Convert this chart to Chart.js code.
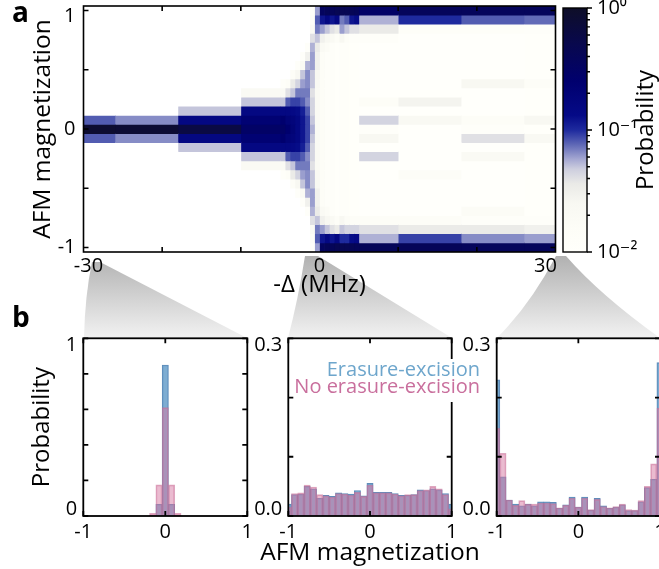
<!DOCTYPE html>
<html lang="en">
<head>
<meta charset="UTF-8">
<title>AFM magnetization vs detuning</title>
<style>
  body { margin: 0; padding: 0; width: 659px; height: 569px; overflow: hidden; background: #fff;
         position: relative; font-family: 'Open Sans', 'DejaVu Sans', sans-serif; }
  canvas, svg, .lbl { position: absolute; }
  .panel { font-weight: bold; font-size: 28px; line-height: 28px; color: #000; }
  .legend { font-size: 20px; line-height: 20px; right: 179px; background: #fff; white-space: nowrap; }
</style>
</head>
<body>
<svg width="659" height="569" style="left:0;top:0">
  <defs>
    <linearGradient id="wedgeFill" x1="0" y1="255" x2="0" y2="338" gradientUnits="userSpaceOnUse">
      <stop offset="0" stop-color="#b0b0b0"/>
      <stop offset="1" stop-color="#f2f2f2"/>
    </linearGradient>
  </defs>
  <path d="M92 262 L100 262 L247 338 L84 338 Q85 295 92 262 Z" fill="url(#wedgeFill)"/>
  <path d="M305 256 L318 256 L452 338 L288 338 Q298 300 305 256 Z" fill="url(#wedgeFill)"/>
  <path d="M556 256 L566 256 Q600 295 660 338 L497 338 Q530 305 556 256 Z" fill="url(#wedgeFill)"/>
</svg>

<canvas id="heat" width="600" height="300" style="left:0;top:0"></canvas>
<canvas id="cbar" width="119" height="300" style="left:540px;top:0"></canvas>
<canvas id="h1" width="262" height="269" style="left:0;top:300px"></canvas>
<canvas id="h2" width="280" height="269" style="left:220px;top:300px"></canvas>
<canvas id="h3" width="240" height="269" style="left:430px;top:300px"></canvas>

<div class="lbl panel" style="left:12px;top:-3px">a</div>
<div class="lbl panel" style="left:12px;top:302px">b</div>
<div class="lbl legend" style="top:359px;color:#6ea6cc">Erasure-excision</div>
<div class="lbl legend" style="top:376px;height:26px;color:#c96f9d">No erasure-excision</div>

<script src="https://cdn.jsdelivr.net/npm/chart.js"></script>
<script>
// AFM magnetization bins (rows of the map, bins of the histograms)
const magnetization = [-1, -0.9231, -0.8462, -0.7692, -0.6923, -0.6154, -0.5385, -0.4615, -0.3846, -0.3077,
  -0.2308, -0.1538, -0.0769, 0, 0.0769, 0.1538, 0.2308, 0.3077, 0.3846, 0.4615, 0.5385, 0.6154, 0.6923,
  0.7692, 0.8462, 0.9231, 1];

// -Delta (MHz) column edges of the map
const detuningEdges = [-30, -26, -18, -10, -5, -4.375, -3.75, -3.125, -2.5, -1.875, -1.25, -0.625, 0,
  0.625, 1.25, 1.875, 2.5, 3.125, 3.75, 4.375, 5, 10, 18, 26, 30];

// probability per column, from m = -1 (first) to m = +1 (last)
const colM30 = [.008,.008,.008,.008,.008,.008,.008,.008,.008,.008,.008,.008,.08,.85,.08,.008,.008,.008,.008,.008,.008,.008,.008,.008,.008,.008,.008];
const colM22 = [.008,.008,.008,.008,.008,.008,.008,.008,.008,.008,.008,.008,.065,.8,.065,.008,.008,.008,.008,.008,.008,.008,.008,.008,.008,.008,.008];
const colM14 = [.008,.008,.008,.008,.008,.008,.008,.008,.008,.008,.008,.05,.15,.6,.15,.05,.008,.008,.008,.008,.008,.008,.008,.008,.008,.008,.008];
const colM6  = [.008,.008,.008,.008,.008,.008,.008,.008,.008,.02,.05,.15,.22,.3,.22,.15,.05,.02,.008,.008,.008,.008,.008,.008,.008,.008,.008];
const colM4_7 = [.008,.008,.008,.008,.008,.008,.008,.008,.012,.02,.05,.15,.25,.3,.25,.15,.05,.02,.012,.008,.008,.008,.008,.008,.008,.008,.008];
const colM4_1 = [.008,.008,.008,.008,.008,.008,.008,.008,.015,.04,.08,.15,.2,.25,.2,.15,.08,.04,.015,.008,.008,.008,.008,.008,.008,.008,.008];
const colM3_4 = [.008,.008,.008,.008,.008,.008,.008,.015,.035,.05,.09,.14,.18,.2,.18,.14,.09,.05,.035,.015,.008,.008,.008,.008,.008,.008,.008];
const colM2_8 = [.008,.008,.008,.008,.008,.008,.012,.025,.045,.07,.09,.13,.15,.15,.15,.13,.09,.07,.045,.025,.012,.008,.008,.008,.008,.008,.008];
const colM2_2 = [.008,.008,.008,.008,.008,.012,.02,.05,.06,.07,.08,.11,.12,.12,.12,.11,.08,.07,.06,.05,.02,.012,.008,.008,.008,.008,.008];
const colM1_6 = [.009,.009,.009,.009,.012,.03,.055,.065,.065,.07,.065,.08,.09,.09,.09,.08,.065,.07,.065,.065,.055,.03,.012,.009,.009,.009,.009];
const colM0_9 = [.012,.015,.02,.04,.055,.06,.06,.05,.05,.04,.045,.045,.05,.055,.05,.045,.045,.04,.05,.05,.06,.06,.055,.04,.02,.015,.012];
const colM0_3 = [.06,.08,.07,.05,.035,.03,.03,.025,.022,.02,.02,.02,.02,.02,.02,.02,.02,.02,.022,.025,.03,.03,.035,.05,.07,.08,.06];
const colP0_3 = [.35,.12,.06,.03,.02,.015,.015,.015,.015,.015,.015,.015,.015,.015,.015,.015,.015,.015,.015,.015,.015,.015,.02,.03,.06,.12,.35];
const colP0_9 = [.4,.15,.05,.025,.018,.013,.013,.013,.013,.013,.013,.013,.013,.013,.013,.013,.013,.013,.013,.013,.013,.013,.018,.025,.05,.15,.4];
const colP1_6 = [.4,.12,.04,.02,.012,.012,.012,.012,.012,.012,.012,.012,.012,.012,.012,.012,.012,.012,.012,.012,.012,.012,.012,.02,.04,.12,.4];
const colP2_2 = [.45,.15,.035,.015,.011,.011,.011,.011,.011,.011,.011,.011,.011,.011,.011,.011,.011,.011,.011,.011,.011,.011,.011,.015,.035,.15,.45];
const colP2_8 = [.45,.1,.05,.025,.012,.012,.012,.012,.012,.012,.012,.012,.012,.012,.012,.012,.012,.012,.012,.012,.012,.012,.012,.025,.06,.07,.45];
const colP3_4 = [.45,.1,.045,.018,.012,.012,.012,.012,.012,.012,.012,.012,.012,.012,.012,.012,.012,.012,.012,.012,.012,.012,.012,.015,.05,.08,.45];
const colP4_1 = [.42,.13,.045,.015,.011,.011,.011,.011,.011,.011,.011,.011,.011,.011,.011,.011,.011,.011,.011,.011,.011,.011,.011,.012,.04,.12,.42];
const colP4_7 = [.4,.14,.045,.015,.011,.011,.011,.011,.011,.011,.011,.011,.011,.011,.011,.011,.011,.011,.011,.011,.011,.011,.011,.012,.04,.13,.4];
const colP6  = [.4,.055,.04,.015,.01,.01,.01,.01,.01,.01,.045,.01,.025,.012,.045,.01,.015,.01,.01,.01,.01,.01,.01,.012,.035,.055,.3];
const colP14 = [.4,.09,.035,.015,.01,.01,.01,.01,.015,.01,.01,.01,.01,.01,.022,.01,.028,.01,.01,.01,.01,.01,.01,.01,.014,.1,.38];
const colP22 = [.38,.065,.035,.012,.018,.01,.01,.01,.01,.01,.02,.01,.04,.012,.015,.01,.01,.01,.025,.01,.01,.01,.01,.01,.014,.08,.38];
const colP30 = [.38,.06,.03,.012,.011,.011,.011,.011,.011,.011,.011,.011,.022,.011,.025,.011,.011,.011,.015,.011,.011,.011,.011,.011,.012,.075,.38];

const heatColumns = [colM30, colM22, colM14, colM6, colM4_7, colM4_1, colM3_4, colM2_8, colM2_2, colM1_6,
  colM0_9, colM0_3, colP0_3, colP0_9, colP1_6, colP2_2, colP2_8, colP3_4, colP4_1, colP4_7,
  colP6, colP14, colP22, colP30];

// histograms (b): -Delta = -30, 0, 30 MHz
const histM30Erasure   = [0,0,0,0,0,0,0,0,0,0,0,.003,.066,.85,.066,.003,0,0,0,0,0,0,0,0,0,0,0];
const histM30NoErasure = [0,0,0,0,0,0,0,0,0,0,0,.015,.175,.61,.175,.015,0,0,0,0,0,0,0,0,0,0,0];
const hist0Erasure   = [.02,.036,.037,.05,.046,.03,.035,.033,.039,.038,.037,.043,.034,.055,.04,.04,.04,.038,.035,.035,.036,.044,.043,.046,.044,.038,.02];
const hist0NoErasure = [.015,.038,.039,.052,.049,.036,.034,.032,.038,.037,.035,.04,.033,.052,.039,.039,.039,.037,.034,.036,.036,.043,.044,.05,.046,.036,.012];
const hist30Erasure   = [.23,.066,.027,.02,.017,.02,.017,.024,.024,.023,.013,.019,.032,.015,.032,.01,.03,.017,.013,.015,.019,.009,.009,.024,.048,.062,.259];
const hist30NoErasure = [.148,.106,.027,.018,.026,.02,.02,.022,.022,.021,.014,.018,.03,.015,.03,.011,.028,.016,.014,.016,.02,.011,.01,.026,.05,.088,.182];

const cbarTickValues = [0.01, 0.1, 1];
const cbarTickLabels = ['10\u207B\u00B2', '10\u207B\u00B9', '10\u2070'];
const cbarMinorTicks = [0.02, 0.03, 0.04, 0.05, 0.06, 0.07, 0.08, 0.09, 0.2, 0.3, 0.4, 0.5, 0.6, 0.7, 0.8, 0.9];

// colormap: position in log10 range [1e-2, 1] -> rgb
const cmapStops = [
  [0.00, 255, 255, 251], [0.10, 253, 253, 247], [0.20, 248, 248, 242], [0.28, 234, 234, 231],
  [0.34, 205, 206, 222], [0.38, 165, 168, 210], [0.44, 95, 104, 182], [0.50, 30, 42, 158],
  [0.56, 5, 10, 135], [0.70, 0, 0, 110], [0.85, 8, 8, 78], [1.00, 14, 14, 40]
];

function probColor(p) {
  if (p < 0.01) return '#ffffff';
  const t = Math.min(1, (Math.log10(p) + 2) / 2);
  for (let i = 1; i < cmapStops.length; i++) {
    const a = cmapStops[i - 1], b = cmapStops[i];
    if (t <= b[0]) {
      const f = (t - a[0]) / (b[0] - a[0]);
      const c = [1, 2, 3].map(j => Math.round(a[j] + f * (b[j] - a[j])));
      return `rgb(${c[0]},${c[1]},${c[2]})`;
    }
  }
  return 'rgb(14,14,40)';
}

const FONT = "'Open Sans', 'DejaVu Sans', sans-serif";
Chart.defaults.font.family = FONT;
Chart.defaults.color = '#000';
Chart.defaults.animation = false;

// frame, inward ticks on every side, optional outer ticks and free titles
const frameTicks = {
  id: 'frameTicks',
  afterDatasetsDraw(chart, args, o) {
    const { ctx, chartArea: a, scales } = chart;
    const len = o.len || 5;
    ctx.save();
    ctx.strokeStyle = '#000';
    ctx.lineWidth = o.lineWidth || 1.5;
    ctx.beginPath();
    (o.xTicks || []).forEach(v => {
      const x = scales.x.getPixelForValue(v);
      ctx.moveTo(x, a.bottom); ctx.lineTo(x, a.bottom - len);
      ctx.moveTo(x, a.top); ctx.lineTo(x, a.top + len);
    });
    (o.yTicks || []).forEach(v => {
      const y = scales.y.getPixelForValue(v);
      ctx.moveTo(a.left, y); ctx.lineTo(a.left + len, y);
      ctx.moveTo(a.right, y); ctx.lineTo(a.right - len, y);
    });
    (o.outTicks || []).forEach(t => {
      const y = scales.y.getPixelForValue(t[0]);
      ctx.moveTo(a.right, y); ctx.lineTo(a.right + t[1], y);
    });
    ctx.stroke();
    ctx.strokeRect(a.left, a.top, a.right - a.left, a.bottom - a.top);
    ctx.fillStyle = '#000';
    ctx.textAlign = 'center';
    ctx.textBaseline = 'middle';
    if (o.bottomTitle) {
      ctx.font = o.bottomTitle.font;
      ctx.fillText(o.bottomTitle.text, (a.left + a.right) / 2, o.bottomTitle.y);
    }
    if (o.sideTitle) {
      ctx.translate(a.right + o.sideTitle.dx, (a.top + a.bottom) / 2);
      ctx.rotate(-Math.PI / 2);
      ctx.font = o.sideTitle.font;
      ctx.fillText(o.sideTitle.text, 0, 0);
    }
    ctx.restore();
  }
};

const noLegend = { legend: { display: false }, tooltip: { enabled: false } };
const hidden = { grid: { display: false, drawTicks: false }, border: { display: false } };

function boxSize(size, vertical) {
  return s => {
    if (vertical) s.width = size; else s.height = size;
    s.paddingTop = 0; s.paddingBottom = 0; s.paddingLeft = 0; s.paddingRight = 0;
  };
}
function setTicks(values) {
  return s => { s.ticks = values.map(v => ({ value: v })); };
}

// ---- a: map ----
new Chart(document.getElementById('heat'), {
  type: 'bar',
  data: {
    datasets: heatColumns.map((col, c) => ({
      data: col.map((p, k) => ({ y: magnetization[k], x: [detuningEdges[c], detuningEdges[c + 1]] })),
      backgroundColor: col.map(probColor),
      borderWidth: 0,
      grouped: false,
      categoryPercentage: 1,
      barPercentage: 1,
      clip: 0
    }))
  },
  options: {
    indexAxis: 'y',
    responsive: false,
    layout: { padding: { top: 6, right: 44.5, left: 0, bottom: 0 } },
    plugins: { ...noLegend,
      frameTicks: { xTicks: [-20, -10, 10, 20], yTicks: [-1, -0.5, 0, 0.5, 1], len: 5, lineWidth: 1.6 } },
    scales: {
      x: { type: 'linear', min: -30, max: 30, offset: false, ...hidden,
        afterBuildTicks: setTicks([-30, 0, 30]),
        ticks: { padding: 2, autoSkip: false, maxRotation: 0, font: { size: 20 },
          callback: v => v === -30 ? '\u2002-30' : v === 30 ? '30\u2003' : String(v) },
        title: { display: true, text: '-\u0394 (MHz)', font: { size: 24 }, padding: { top: 0, bottom: 0 } },
        afterFit: boxSize(48, false) },
      y: { type: 'linear', min: -1.0385, max: 1.0385, offset: false, ...hidden,
        afterBuildTicks: setTicks([-1, 0, 1]),
        ticks: { padding: 8, font: { size: 20, lineHeight: 0.55 }, callback: v => v === 1 ? ['', '1'] : String(v) },
        title: { display: true, text: 'AFM magnetization', font: { size: 24.5 }, padding: { top: 28, bottom: 0 } },
        afterFit: boxSize(83.5, true) }
    }
  },
  plugins: [frameTicks]
});

// ---- a: colour bar ----
new Chart(document.getElementById('cbar'), {
  type: 'bar',
  data: {
    labels: ['Probability'],
    datasets: [{
      data: [[0.01, 1]],
      backgroundColor: c => {
        const a = c.chart.chartArea;
        if (!a) return '#fff';
        const g = c.chart.ctx.createLinearGradient(0, a.bottom, 0, a.top);
        cmapStops.forEach(s => g.addColorStop(s[0], `rgb(${s[1]},${s[2]},${s[3]})`));
        return g;
      },
      borderWidth: 0,
      categoryPercentage: 1,
      barPercentage: 1
    }]
  },
  options: {
    responsive: false,
    layout: { padding: { left: 23, top: 8, bottom: 48, right: 0 } },
    plugins: { ...noLegend,
      frameTicks: { lineWidth: 1.4,
        outTicks: cbarMinorTicks.map(v => [v, 3]).concat(cbarTickValues.map(v => [v, 5])),
        sideTitle: { text: 'Probability', dx: 59, font: "24px " + FONT } } },
    scales: {
      x: { display: false },
      y: { type: 'logarithmic', position: 'right', min: 0.01, max: 1, ...hidden,
        afterBuildTicks: setTicks(cbarTickValues),
        ticks: { padding: 10, font: { size: 20 }, callback: v => cbarTickLabels[cbarTickValues.indexOf(v)] },
        afterFit: boxSize(72, true) }
    }
  },
  plugins: [frameTicks]
});

// ---- b: histograms ----
const pinkFill = 'rgba(214,120,162,0.5)', pinkEdge = 'rgba(200,110,150,0.6)';
const blueFill = 'rgba(108,162,204,0.88)', blueEdge = 'rgba(78,128,178,0.9)';

function histChart(id, blue, pink, cfg) {
  const bars = (vals, fill, edge) => ({
    data: magnetization.map((m, k) => ({ x: m, y: vals[k] })),
    backgroundColor: fill, borderColor: edge, borderWidth: 1,
    grouped: false, categoryPercentage: 1, barPercentage: 1, clip: 0
  });
  return new Chart(document.getElementById(id), {
    type: 'bar',
    data: { datasets: [bars(pink, pinkFill, pinkEdge), bars(blue, blueFill, blueEdge)] },
    options: {
      responsive: false,
      layout: { padding: cfg.pad },
      plugins: { ...noLegend,
        frameTicks: { xTicks: [-1, 0, 1], yTicks: cfg.yTicks, len: 5, lineWidth: 1.8, bottomTitle: cfg.bottomTitle } },
      scales: {
        x: { type: 'linear', min: -1, max: 1, offset: false, ...hidden,
          afterBuildTicks: setTicks([-1, 0, 1]),
          ticks: { padding: 4, autoSkip: false, maxRotation: 0, font: { size: 20 } },
          afterFit: boxSize(53, false) },
        y: { type: 'linear', min: 0, max: cfg.yMax, ...hidden,
          afterBuildTicks: setTicks([0, cfg.yMax]),
          // top label sits just below the frame top, bottom label just above the frame bottom
          ticks: { padding: 6, font: { size: 20, lineHeight: 0.72 },
            callback: v => v === 0 ? [cfg.fmt(v), ''] : ['', cfg.fmt(v)] },
          title: cfg.yTitle || { display: false },
          afterFit: boxSize(cfg.yW, true) }
      }
    },
    plugins: [frameTicks]
  });
}

histChart('h1', histM30Erasure, histM30NoErasure, {
  pad: { top: 38.3, right: 14.7, left: 0, bottom: 0 }, yW: 83.3, yMax: 1,
  yTicks: [0, 0.2, 0.4, 0.6, 0.8, 1], fmt: v => String(v),
  yTitle: { display: true, text: 'Probability', font: { size: 24 }, padding: { top: 28, bottom: 0 } }
});
histChart('h2', hist0Erasure, hist0NoErasure, {
  pad: { top: 38.3, right: 48.3, left: 0, bottom: 0 }, yW: 68.3, yMax: 0.3,
  yTicks: [0, 0.1, 0.2, 0.3], fmt: v => v.toFixed(1),
  bottomTitle: { text: 'AFM magnetization', y: 253, font: "24.5px " + FONT }
});
histChart('h3', hist30Erasure, hist30NoErasure, {
  pad: { top: 38.3, right: 10, left: 0, bottom: 0 }, yW: 66.7, yMax: 0.3,
  yTicks: [0, 0.1, 0.2, 0.3], fmt: v => v.toFixed(1)
});
</script>
</body>
</html>
